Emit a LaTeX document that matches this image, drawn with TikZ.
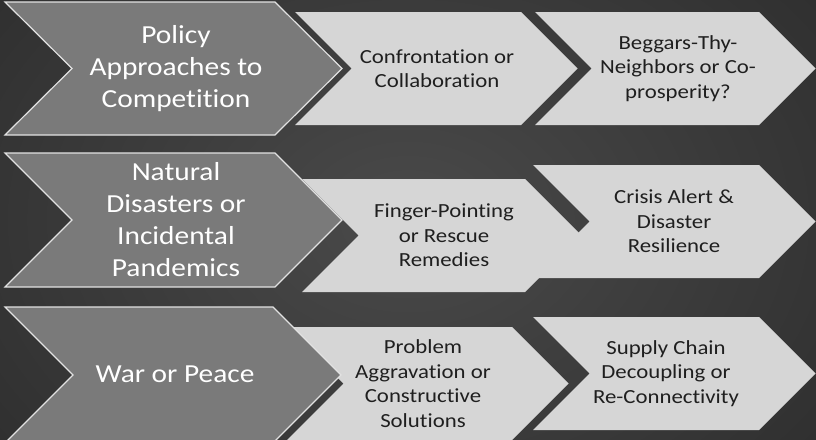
\documentclass[tikz,border=0pt]{standalone}
\usepackage{fontspec}
\setmainfont{Carlito}[Ligatures=NoCommon]

\definecolor{fond}{HTML}{3D3D3D}
\definecolor{fondclair}{HTML}{4A4A4A}
\definecolor{fondsombre}{HTML}{303030}
\definecolor{chevfonce}{HTML}{7A7A7A}
\definecolor{chevclair}{HTML}{D6D6D6}
\definecolor{bord}{HTML}{E2E2E2}

\begin{document}
\begin{tikzpicture}[x=1pt, y=-1pt,
    grand/.style={fill=chevfonce, draw=bord, line width=1.2pt, line join=miter},
    petit/.style={fill=chevclair},
    titre/.style={text=white, align=center, xscale=1.13, transform shape, font=\fontsize{26}{32}\selectfont},
    texte/.style={text=black!88, align=center, xscale=1.14, transform shape, font=\fontsize{20}{24.5}\selectfont}]

    % fond
    \useasboundingbox (0,0) rectangle (816,439);
    \clip (0,0) rectangle (816,439);
    \shade[inner color=fondclair, outer color=fondsombre] (-100,-150) rectangle (916,589);

    % ligne 1
    \fill[petit] (535,12) -- (759,12) -- (815.5,68.5) -- (759,125) -- (535,125) -- (591.5,68.5) -- cycle;
    \fill[petit] (295,12) -- (521,12) -- (577.5,68.5) -- (521,125) -- (295,125) -- (351.5,68.5) -- cycle;
    \draw[grand] (5,2) -- (275,2) -- (342,68.5) -- (275,135) -- (5,135) -- (72,68.5) -- cycle;
    \node[titre] (politique) at (176,68.5) {Policy\\Approaches to\\Competition};
    \node[texte] (confront) at (437,68.5) {Confrontation or\\Collaboration};
    \node[texte] (mendiant) at (678,68.5) {Beggars-Thy-\\Neighbors or Co-\\prosperity?};

    % ligne 2
    \fill[petit] (533,165) -- (759,165) -- (815.5,221.5) -- (759,278) -- (533,278) -- (589.5,221.5) -- cycle;
    \fill[petit] (302,179) -- (525,179) -- (581.5,235.5) -- (525,292) -- (302,292) -- (358.5,235.5) -- cycle;
    \draw[grand] (5,153) -- (275,153) -- (342,220) -- (275,287) -- (5,287) -- (72,220) -- cycle;
    \node[titre] (desastres) at (176,220) {Natural\\Disasters or\\Incidental\\Pandemics};
    \node[texte] (doigt) at (444,235.5) {Finger-Pointing\\or Rescue\\Remedies};
    \node[texte] (crise) at (674,221.5) {Crisis Alert \&\\Disaster\\Resilience};

    % ligne 3
    \fill[petit] (533,317) -- (759,317) -- (815.5,373.5) -- (759,430) -- (533,430) -- (589.5,373.5) -- cycle;
    \fill[petit] (287,327) -- (512,327) -- (568.5,383.5) -- (512,440) -- (287,440) -- (343.5,383.5) -- cycle;
    \draw[grand] (5,307) -- (273,307) -- (341,375) -- (273,443) -- (5,443) -- (73,375) -- cycle;
    \node[titre] (guerre) at (175,374) {War or Peace};
    \node[texte] (probleme) at (423,383.5) {Problem\\Aggravation or\\Constructive\\Solutions};
    \node[texte] (chaine) at (666,373.5) {Supply Chain\\Decoupling or\\Re-Connectivity};

\end{tikzpicture}
\end{document}
